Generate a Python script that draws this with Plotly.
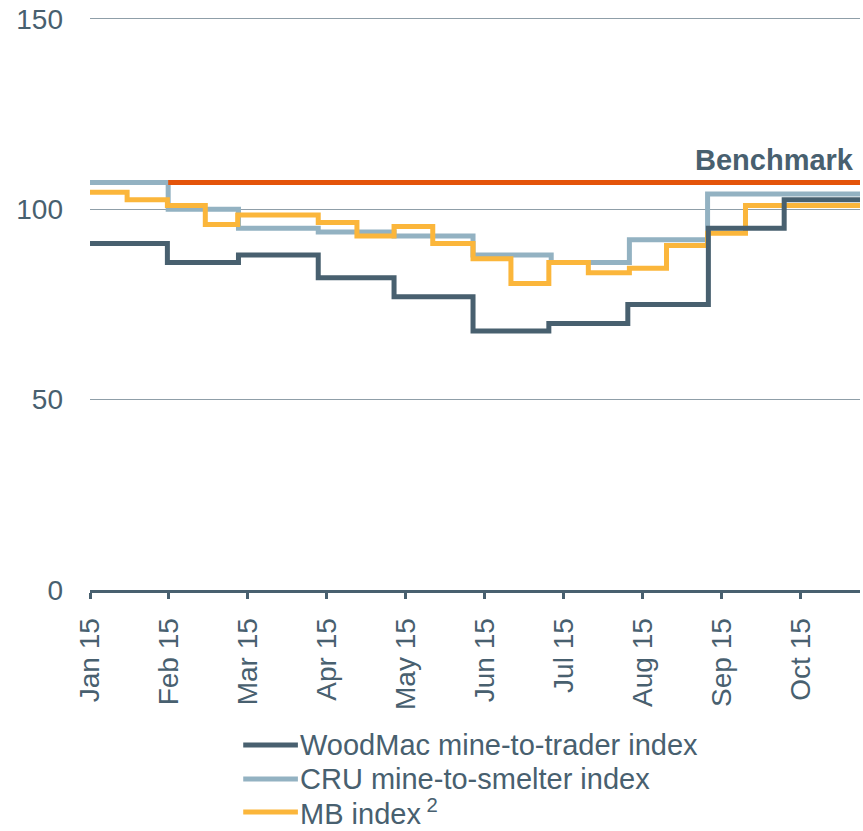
import plotly.graph_objects as go

# Month tick labels (x positions are month offsets from Jan 15)
month_labels = ["Jan 15", "Feb 15", "Mar 15", "Apr 15", "May 15",
                "Jun 15", "Jul 15", "Aug 15", "Sep 15", "Oct 15"]
x_end = 9.75

# Step series: month offset where each level begins, and the level value
woodmac_x = [0, 0.98, 1.88, 2.89, 3.85, 4.85, 5.81, 6.81, 7.83, 8.79]
woodmac_y = [91, 86, 88, 82, 77, 68, 70, 75, 95, 102.5]

cru_x = [0, 0.99, 1.88, 2.89, 3.85, 4.85, 5.84, 6.83, 7.82]
cru_y = [107, 100, 95, 94, 93, 88, 86, 92, 104]

mb_x = [0, 0.47, 0.98, 1.46, 1.87, 2.89, 3.38, 3.85, 4.34, 4.85,
        5.33, 5.81, 6.31, 6.83, 7.30, 7.82, 8.30]
mb_y = [104.5, 102.5, 101, 96, 98.5, 96.5, 93, 95.5, 91, 87,
        80.5, 86, 83.3, 84.5, 90.5, 93.7, 101]

benchmark_start = 0.99
benchmark_value = 107

y_ticks = [0, 50, 100, 150]

DARK = "#48606f"
LIGHT = "#93b2c2"
GOLD = "#fbb63b"
ORANGE = "#e4540a"
GRID = "#8f9ea8"
FONT = "Liberation Sans, Arial, sans-serif"


def step(xs, ys):
    return list(xs) + [x_end], list(ys) + [ys[-1]]


fig = go.Figure()

for xs, ys, color, name in [
    (cru_x, cru_y, LIGHT, "CRU mine-to-smelter index"),
    (mb_x, mb_y, GOLD, "MB index<sup>2</sup>"),
    (woodmac_x, woodmac_y, DARK, "WoodMac mine-to-trader index"),
]:
    sx, sy = step(xs, ys)
    fig.add_trace(go.Scatter(
        x=sx, y=sy, mode="lines", name=name, line_shape="hv",
        line=dict(color=color, width=5), showlegend=False,
        hoverinfo="skip"))

fig.add_trace(go.Scatter(
    x=[benchmark_start, x_end], y=[benchmark_value, benchmark_value],
    mode="lines", name="Benchmark", line=dict(color=ORANGE, width=5),
    showlegend=False, hoverinfo="skip"))

fig.add_annotation(
    x=x_end, y=benchmark_value + 6, xref="x", yref="y",
    text="<b>Benchmark</b>", showarrow=False, xanchor="right",
    yanchor="middle", xshift=-4, font=dict(family=FONT, size=29, color=DARK))

# Legend drawn beneath the axis
legend_rows = [
    ("WoodMac mine-to-trader index", DARK, -0.2705),
    ("CRU mine-to-smelter index", LIGHT, -0.3298),
    ("MB index<sup> 2</sup>", GOLD, -0.3874),
]
for label, color, yp in legend_rows:
    fig.add_shape(type="line", xref="paper", yref="paper",
                  x0=0.199, x1=0.270, y0=yp, y1=yp,
                  line=dict(color=color, width=5))
    fig.add_annotation(x=0.2715, y=yp, xref="paper", yref="paper",
                       text=label, showarrow=False, xanchor="left",
                       yanchor="middle", borderpad=0,
                       font=dict(family=FONT, size=29, color=DARK))

fig.update_layout(
    width=863, height=831, autosize=False,
    margin=dict(l=90, r=3, t=17, b=241),
    paper_bgcolor="white", plot_bgcolor="white",
    font=dict(family=FONT, color=DARK),
    xaxis=dict(
        range=[0, x_end], tickvals=list(range(len(month_labels))),
        ticktext=month_labels, tickangle=-90, ticks="outside",
        ticklen=6, tickwidth=3, tickcolor=DARK, showline=True,
        linecolor=DARK, linewidth=3, showgrid=False, zeroline=False,
        ticklabelstandoff=8,
        tickfont=dict(family=FONT, size=28, color=DARK)),
    yaxis=dict(
        range=[0, 150.5], tickvals=y_ticks, showgrid=True, gridcolor=GRID,
        gridwidth=1, showline=False, zeroline=False, ticks="",
        ticklabelstandoff=26,
        tickfont=dict(family=FONT, size=28, color=DARK)),
)

fig.write_html("out.html")
